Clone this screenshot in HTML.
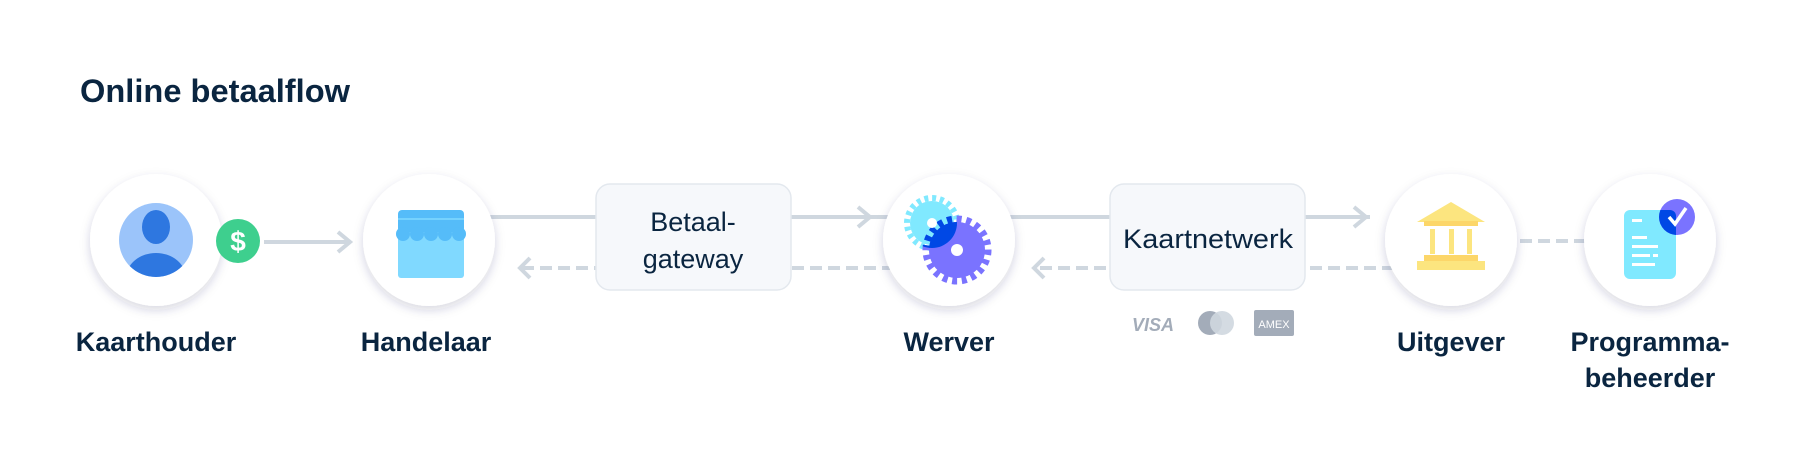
<!DOCTYPE html>
<html><head><meta charset="utf-8"><style>
html,body{margin:0;padding:0;background:#fff;width:1800px;height:472px;overflow:hidden}
svg{display:block}
text{font-family:"Liberation Sans",sans-serif}
</style></head><body>
<svg width="1800" height="472" viewBox="0 0 1800 472" xmlns="http://www.w3.org/2000/svg">
<defs>
<filter id="sh" x="-30%" y="-30%" width="160%" height="170%"><feDropShadow dx="0" dy="4" stdDeviation="5" flood-color="#32325d" flood-opacity="0.18"/></filter>
<clipPath id="cy"><circle cx="932" cy="223" r="25"/></clipPath>
<clipPath id="doc"><rect x="1624" y="210" width="52" height="69" rx="6"/></clipPath>
</defs>
<text x="80" y="102" font-size="32" font-weight="bold" fill="#0a2540" textLength="270" lengthAdjust="spacingAndGlyphs">Online betaalflow</text>

<g stroke="#cfd7df" stroke-width="4" fill="none">
<line x1="490" y1="217" x2="890" y2="217"/>
<polyline points="858,207 870,217 858,227"/>
<line x1="1010" y1="217" x2="1370" y2="217"/>
<polyline points="1354,207 1366,217 1354,227"/>
<line x1="264" y1="242" x2="350" y2="242"/>
<polyline points="338,232 350,242 338,252"/>
<g stroke-dasharray="12,6">
<line x1="522" y1="268" x2="890" y2="268"/>
<line x1="1040" y1="268" x2="1400" y2="268"/>
<line x1="1520" y1="241" x2="1590" y2="241"/>
</g>
<polyline points="530,258 520,268 530,278"/>
<polyline points="1044,258 1034,268 1044,278"/>
</g>

<g filter="url(#sh)" fill="#fff">
<circle cx="156" cy="240" r="66"/>
<circle cx="429" cy="240" r="66"/>
<circle cx="949" cy="240" r="66"/>
<circle cx="1451" cy="240" r="66"/>
<circle cx="1650" cy="240" r="66"/>
</g>

<rect x="596" y="184" width="195" height="106" rx="14" fill="#f6f8fb" stroke="#e3e8ee" stroke-width="1.5"/>
<text x="693" y="231" font-size="27" fill="#0a2540" text-anchor="middle">Betaal-</text>
<text x="693" y="268" font-size="27" fill="#0a2540" text-anchor="middle">gateway</text>
<rect x="1110" y="184" width="195" height="106" rx="14" fill="#f6f8fb" stroke="#e3e8ee" stroke-width="1.5"/>
<text x="1208" y="248" font-size="27" fill="#0a2540" text-anchor="middle" textLength="170" lengthAdjust="spacingAndGlyphs">Kaartnetwerk</text>

<!-- person -->
<circle cx="156" cy="240" r="37" fill="#9bc4fa"/>
<clipPath id="pc"><circle cx="156" cy="240" r="37"/></clipPath>
<ellipse cx="156" cy="227" rx="14" ry="17" fill="#2e77e0"/>
<ellipse cx="156" cy="278" rx="30" ry="25" fill="#2e77e0" clip-path="url(#pc)"/>
<circle cx="238" cy="241" r="22" fill="#3ecf8e"/>
<text x="238" y="251" font-size="28" font-weight="bold" fill="#fff" text-anchor="middle">$</text>

<!-- store -->
<rect x="398" y="225" width="66" height="53" rx="3" fill="#80d9ff"/>
<rect x="398" y="210" width="66" height="22" rx="4" fill="#55bcf9"/>
<g fill="#55bcf9"><circle cx="403" cy="234" r="7"/><circle cx="417" cy="234" r="7"/><circle cx="431" cy="234" r="7"/><circle cx="445" cy="234" r="7"/><circle cx="459" cy="234" r="7"/></g>
<line x1="398" y1="219" x2="464" y2="219" stroke="#80d9ff" stroke-width="1.5"/>

<!-- gears -->
<circle cx="932" cy="223" r="22" fill="#80e9ff"/>
<circle cx="932" cy="223" r="25" fill="none" stroke="#80e9ff" stroke-width="6" stroke-dasharray="4,3.85"/>
<circle cx="957" cy="250" r="28" fill="#7a73ff"/>
<circle cx="957" cy="250" r="31" fill="none" stroke="#7a73ff" stroke-width="7" stroke-dasharray="5,4.7"/>
<g clip-path="url(#cy)"><circle cx="957" cy="250" r="28" fill="#0048e5"/><circle cx="957" cy="250" r="31" fill="none" stroke="#0048e5" stroke-width="7" stroke-dasharray="5,4.7"/></g>
<circle cx="932" cy="223" r="5" fill="#fff"/>
<circle cx="957" cy="250" r="6" fill="#fff"/>

<!-- bank -->
<polygon points="1451,202 1417,222 1485,222" fill="#fce57f"/>
<rect x="1424" y="221" width="54" height="5" fill="#fcd669"/>
<g fill="#fce57f"><rect x="1430" y="229" width="5" height="25"/><rect x="1449" y="229" width="5" height="25"/><rect x="1467" y="229" width="5" height="25"/></g>
<rect x="1424" y="255" width="54" height="6" fill="#fcd669"/>
<rect x="1417" y="261" width="68" height="9" fill="#fce57f"/>

<!-- document -->
<rect x="1624" y="210" width="52" height="69" rx="6" fill="#80e9ff"/>
<g fill="#fff"><rect x="1632" y="219" width="10" height="3"/><rect x="1632" y="236" width="15" height="3"/><rect x="1632" y="245" width="26" height="3"/><rect x="1632" y="254" width="18" height="3"/><rect x="1653" y="254" width="5" height="3"/><rect x="1632" y="263" width="23" height="3"/></g>
<circle cx="1677" cy="217" r="18" fill="#7a73ff"/>
<circle cx="1677" cy="217" r="18" fill="#0048e5" clip-path="url(#doc)"/>
<polyline points="1669,217 1675,224 1686,208" fill="none" stroke="#fff" stroke-width="3.5"/>

<!-- card logos -->
<text x="1132" y="331" font-size="18" font-weight="bold" font-style="italic" fill="#a3acb9">VISA</text>
<circle cx="1210" cy="323" r="12" fill="#a3acb9"/>
<circle cx="1222" cy="323" r="12" fill="#cfd7df" opacity="0.9"/>
<rect x="1254" y="310" width="40" height="26" rx="2" fill="#a3acb9"/>
<text x="1274" y="328" font-size="11" fill="#fff" text-anchor="middle">AMEX</text>

<g font-size="27" font-weight="bold" fill="#0a2540" text-anchor="middle">
<text x="156" y="351">Kaarthouder</text>
<text x="426" y="351">Handelaar</text>
<text x="949" y="351">Werver</text>
<text x="1451" y="351">Uitgever</text>
<text x="1650" y="351">Programma-</text>
<text x="1650" y="387">beheerder</text>
</g>
</svg>
</body></html>
